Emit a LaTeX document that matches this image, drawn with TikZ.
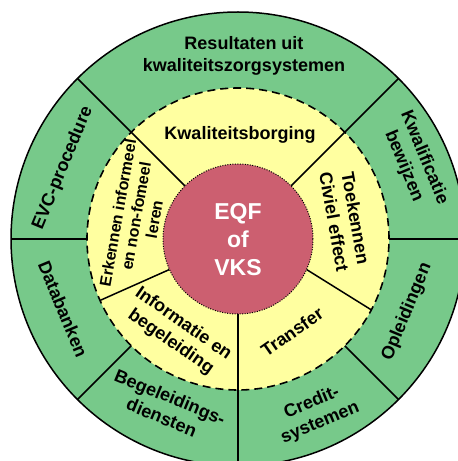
\documentclass[tikz,border=0pt]{standalone}
\usepackage{fontspec}
\setmainfont{Liberation Sans}
\usetikzlibrary{calc}
\definecolor{ringgreen}{RGB}{119,201,138}
\definecolor{ringyellow}{RGB}{255,255,160}
\definecolor{corered}{RGB}{204,95,112}
\begin{document}
\begin{tikzpicture}[x=1pt,y=1pt,
  lbl/.style={font=\fontsize{18}{22}\selectfont\bfseries, align=center, inner sep=0pt, text=black},
  smalllbl/.style={font=\fontsize{16}{18.5}\selectfont\bfseries, align=center, inner sep=0pt, text=black},
  corelbl/.style={font=\fontsize{23}{28}\selectfont\bfseries, align=center, inner sep=0pt, text=white},
  divider/.style={draw=black, line width=1.5pt},
  rimline/.style={draw=black, line width=1.5pt},
  dashring/.style={draw=black, line width=1.6pt, dash pattern=on 8pt off 5pt},
  dotring/.style={draw=black, line width=1pt, dash pattern=on 1pt off 1.5pt}]
\useasboundingbox (0,0) rectangle (458,461);
\clip (0,0) rectangle (458,461);
\coordinate (C) at (238,222);
% fills
\fill[ringgreen] (C) circle (227);
\fill[ringyellow] (C) circle (151);
% outer ring dividers
\foreach \a in {0,45,135,180,225,270,315}
  \draw[divider] (C) ++(\a:151) -- ++(\a:76);
% inner ring dividers
\foreach \a in {45,135,204,270}
  \draw[divider] (C) ++(\a:75) -- ++(\a:76);
\draw[divider] ($(C)+(-24:75)$) -- ($(C)+(-28:151)$);
% rings
\draw[dashring] (C) circle (151);
\fill[corered] (C) circle (75);
\draw[dotring] (C) circle (75);
\draw[rimline] (C) circle (227);
% outer labels
\node[lbl] (res) at (244,405) {Resultaten uit\\kwaliteitszorgsystemen};
\node[lbl, rotate=67.5] (evc) at (63,293) {EVC-procedure};
\node[lbl, rotate=-67.5] (db) at (63,152) {Databanken};
\node[lbl, rotate=-22.5] (beg) at (166,54) {Begeleidings-\\diensten};
\node[lbl, rotate=22.5] (cred) at (316,48) {Credit-\\systemen};
\node[lbl, rotate=67.5] (opl) at (407,149) {Opleidingen};
\node[lbl, rotate=-67.5] (kwal) at (414,299) {Kwalificatie\\bewijzen};
% inner labels
\node[lbl] (kb) at (240,326) {Kwaliteitsborging};
\node[lbl, rotate=-80] (toek) at (345,241) {Toekennen\\Civiel effect};
\node[lbl, rotate=35] (tr) at (292,129) {Transfer};
\node[lbl, rotate=-35] (inf) at (177,128) {Informatie en\\begeleiding};
\node[smalllbl, rotate=80] (erk) at (136,245) {Erkennen informeel\\en non-fomeel\\leren};
\node[corelbl] (eqf) at (238,221) {EQF\\of\\VKS};
\end{tikzpicture}
\end{document}
